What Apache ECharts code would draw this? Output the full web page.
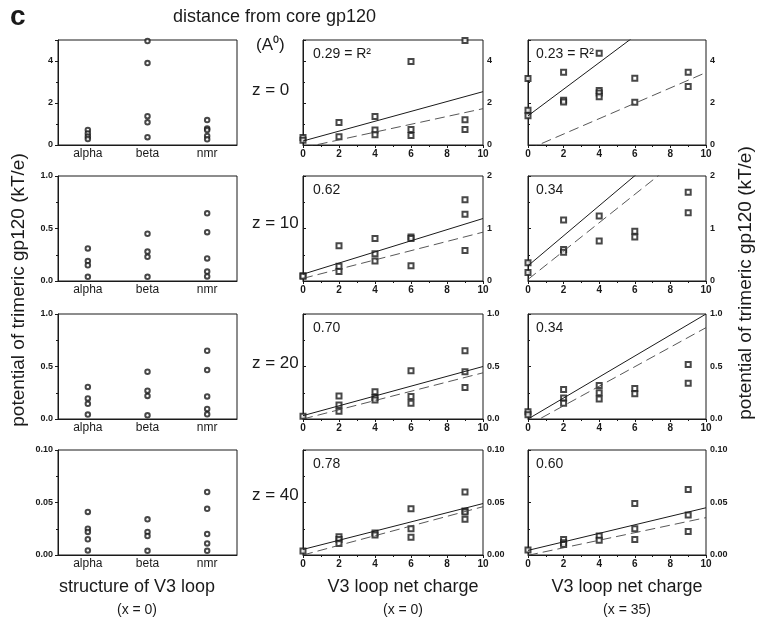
<!DOCTYPE html>
<html>
<head>
<meta charset="utf-8">
<script src="https://cdn.jsdelivr.net/npm/echarts@6/dist/echarts.min.js"></script>
<style>html,body{margin:0;padding:0;background:#fff}#c{width:763px;height:627px}</style>
</head>
<body>
<div id="c"></div>
<script>
// ---------- DATA ----------
// Column 1: structure of V3 loop (x = 0)
const structCats = ['alpha', 'beta', 'nmr'];
const s_z0_alpha = [0.72, 0.55, 0.40, 0.28];
const s_z0_beta = [4.95, 3.90, 1.37, 1.08, 0.37];
const s_z0_nmr = [1.19, 0.79, 0.71, 0.43, 0.27];
const s_z10_alpha = [0.31, 0.19, 0.15, 0.04];
const s_z10_beta = [0.45, 0.28, 0.23, 0.04];
const s_z10_nmr = [0.645, 0.465, 0.215, 0.09, 0.044];
const s_z20_alpha = [0.305, 0.196, 0.145, 0.042];
const s_z20_beta = [0.45, 0.27, 0.22, 0.035];
const s_z20_nmr = [0.65, 0.466, 0.215, 0.096, 0.045];
const s_z40_alpha = [0.041, 0.025, 0.022, 0.015, 0.0044];
const s_z40_beta = [0.034, 0.022, 0.018, 0.004];
const s_z40_nmr = [0.060, 0.044, 0.020, 0.011, 0.004];

// Column 2: V3 loop net charge (x = 0)
const c0_z0_x = [0, 0, 2, 2, 4, 4, 4, 6, 6, 6, 9, 9, 9];
const c0_z0_y = [0.36, 0.23, 1.07, 0.39, 1.36, 0.71, 0.49, 3.98, 0.74, 0.45, 4.98, 1.20, 0.74];
const c0_z10_x = [0, 0, 2, 2, 2, 4, 4, 4, 6, 6, 6, 9, 9, 9];
const c0_z10_y = [0.10, 0.09, 0.67, 0.28, 0.18, 0.81, 0.52, 0.38, 0.84, 0.81, 0.29, 1.55, 1.27, 0.58];
const c0_z20_x = [0, 2, 2, 2, 4, 4, 4, 6, 6, 6, 9, 9, 9];
const c0_z20_y = [0.026, 0.22, 0.133, 0.075, 0.26, 0.205, 0.18, 0.46, 0.214, 0.15, 0.65, 0.45, 0.30];
const c0_z40_x = [0, 2, 2, 2, 4, 4, 6, 6, 6, 9, 9, 9, 9];
const c0_z40_y = [0.0038, 0.0175, 0.0147, 0.011, 0.021, 0.019, 0.044, 0.025, 0.017, 0.060, 0.042, 0.041, 0.034];

// Column 3: V3 loop net charge (x = 35)
const c35_z0_x = [0, 0, 0, 2, 2, 2, 4, 4, 4, 4, 6, 6, 9, 9];
const c35_z0_y = [3.17, 1.66, 1.39, 3.46, 2.13, 2.05, 4.37, 2.59, 2.48, 2.30, 3.18, 2.03, 3.46, 2.78];
const c35_z10_x = [0, 0, 2, 2, 2, 4, 4, 6, 6, 9, 9];
const c35_z10_y = [0.35, 0.16, 1.16, 0.60, 0.55, 1.24, 0.76, 0.95, 0.84, 1.69, 1.30];
const c35_z20_x = [0, 0, 2, 2, 2, 4, 4, 4, 6, 6, 9, 9];
const c35_z20_y = [0.07, 0.04, 0.28, 0.20, 0.15, 0.32, 0.25, 0.19, 0.29, 0.24, 0.52, 0.34];
const c35_z40_x = [0, 2, 2, 2, 4, 4, 6, 6, 6, 9, 9, 9];
const c35_z40_y = [0.0047, 0.0147, 0.0116, 0.010, 0.018, 0.014, 0.049, 0.025, 0.0147, 0.0625, 0.038, 0.0225];

// Regression lines: value at net charge 0 and at 10
const fitX = [0, 10];
const c0_z0_solid = [0.19, 2.54],   c0_z0_dash = [-0.13, 1.73];
const c35_z0_solid = [1.39, 7.72],  c35_z0_dash = [-0.21, 3.45];
const c0_z10_solid = [0.13, 1.19],  c0_z10_dash = [0.05, 0.93];
const c35_z10_solid = [0.29, 3.15], c35_z10_dash = [0.03, 2.73];
const c0_z20_solid = [0.032, 0.50], c0_z20_dash = [0.0, 0.44];
const c35_z20_solid = [0.0, 1.0],   c35_z20_dash = [-0.06, 0.87];
const c0_z40_solid = [0.0053, 0.049], c0_z40_dash = [0.0, 0.046];
const c35_z40_solid = [0.0044, 0.045], c35_z40_dash = [-0.0003, 0.0356];

// Axis settings per row (z)
const rowMax = [5, 2, 1, 0.1];
const rowInterval = [2, 1, 0.5, 0.05];
const rowDecimals = [0, 0, 1, 2];
const col1Max = [5, 1, 1, 0.1];
const col1Interval = [2, 0.5, 0.5, 0.05];
const col1Decimals = [0, 1, 1, 2];
const zLabels = ['z = 0', 'z = 10', 'z = 20', 'z = 40'];
const r2Col2 = ['0.29 = R²', '0.62', '0.70', '0.78'];
const r2Col3 = ['0.23 = R²', '0.34', '0.34', '0.60'];

// ---------- LAYOUT ----------
const colLeft = [58, 303, 528];
const colWidth = [179, 180, 178];
const rowTop = [40, 176, 314, 450];
const rowH = 105;
const FONT = '"Liberation Sans", Arial, Helvetica, sans-serif';
const INK = '#1a1a1a';

const structData = [
  [s_z0_alpha, s_z0_beta, s_z0_nmr],
  [s_z10_alpha, s_z10_beta, s_z10_nmr],
  [s_z20_alpha, s_z20_beta, s_z20_nmr],
  [s_z40_alpha, s_z40_beta, s_z40_nmr]
];
const col2 = [[c0_z0_x, c0_z0_y, c0_z0_solid, c0_z0_dash], [c0_z10_x, c0_z10_y, c0_z10_solid, c0_z10_dash],
              [c0_z20_x, c0_z20_y, c0_z20_solid, c0_z20_dash], [c0_z40_x, c0_z40_y, c0_z40_solid, c0_z40_dash]];
const col3 = [[c35_z0_x, c35_z0_y, c35_z0_solid, c35_z0_dash], [c35_z10_x, c35_z10_y, c35_z10_solid, c35_z10_dash],
              [c35_z20_x, c35_z20_y, c35_z20_solid, c35_z20_dash], [c35_z40_x, c35_z40_y, c35_z40_solid, c35_z40_dash]];

const grids = [], xAxes = [], yAxes = [], series = [];
const lineAx = { show: true, lineStyle: { color: INK, width: 1 } };
const tickAx = { show: true, length: 3, lineStyle: { color: INK, width: 1 } };
const minorAx = (n) => ({ show: true, splitNumber: n, length: 2, lineStyle: { color: INK, width: 1 } });
const numLabel = (dec, extra) => Object.assign({
  fontFamily: FONT, fontSize: 9, color: INK, fontWeight: 'bold',
  formatter: v => Number(v).toFixed(dec)
}, extra || {});

for (let r = 0; r < 4; r++) {
  for (let c = 0; c < 3; c++) {
    const gi = grids.length;
    grids.push({
      left: colLeft[c], top: rowTop[r], width: colWidth[c], height: rowH,
      containLabel: false, outerBoundsMode: 'none',
      show: true, borderColor: INK, borderWidth: 1, backgroundColor: 'transparent'
    });
    if (c === 0) {
      xAxes.push({
        gridIndex: gi, type: 'category', data: structCats, boundaryGap: true,
        axisLine: lineAx, axisTick: { show: false },
        axisLabel: { fontFamily: FONT, fontSize: 12, color: INK, margin: 3 },
        splitLine: { show: false }
      });
      yAxes.push({
        gridIndex: gi, type: 'value', position: 'left', min: 0, max: col1Max[r], interval: col1Interval[r],
        axisLine: lineAx, axisTick: tickAx, minorTick: minorAx(2),
        axisLabel: numLabel(col1Decimals[r], { margin: 5, showMaxLabel: r !== 0 }),
        splitLine: { show: false }, minorSplitLine: { show: false }
      });
      const d = structData[r];
      const pts = [];
      for (let k = 0; k < 3; k++) d[k].forEach(v => pts.push([structCats[k], v]));
      series.push({
        type: 'scatter', xAxisIndex: gi, yAxisIndex: gi, data: pts,
        symbol: 'emptyCircle', symbolSize: 4.5,
        itemStyle: { color: INK, borderColor: INK, borderWidth: 0.8 }, silent: true
      });
    } else {
      const src = (c === 1 ? col2 : col3)[r];
      xAxes.push({
        gridIndex: gi, type: 'value', min: 0, max: 10, interval: 2,
        axisLine: lineAx, axisTick: tickAx, minorTick: minorAx(2),
        axisLabel: { fontFamily: FONT, fontSize: 10, color: INK, fontWeight: 'bold', margin: 4 },
        splitLine: { show: false }
      });
      yAxes.push({
        gridIndex: gi, type: 'value', position: 'right', min: 0, max: rowMax[r], interval: rowInterval[r],
        axisLine: lineAx, axisTick: tickAx, minorTick: minorAx(2),
        axisLabel: numLabel(rowDecimals[r], { margin: 4, showMaxLabel: r !== 0 }),
        splitLine: { show: false }
      });
      const pts = src[0].map((x, i) => [x, src[1][i]]);
      series.push({
        type: 'scatter', xAxisIndex: gi, yAxisIndex: gi, data: pts,
        symbol: 'emptyRect', symbolSize: 5,
        itemStyle: { color: INK, borderColor: INK, borderWidth: 0.8 }, silent: true
      });
      series.push({
        type: 'line', xAxisIndex: gi, yAxisIndex: gi, clip: true, symbol: 'none', silent: true,
        data: fitX.map((x, i) => [x, src[2][i]]),
        lineStyle: { color: INK, width: 1, type: 'solid' }
      });
      series.push({
        type: 'line', xAxisIndex: gi, yAxisIndex: gi, clip: true, symbol: 'none', silent: true,
        data: fitX.map((x, i) => [x, src[3][i]]),
        lineStyle: { color: '#444', width: 0.9, type: [10, 5] }
      });
    }
  }
}

// ---------- TEXT ----------
const txt = (x, y, text, size, opt) => Object.assign({
  type: 'text', x: x, y: y, silent: true,
  style: Object.assign({ text: text, fontFamily: FONT, fontSize: size, fill: INK, textAlign: 'left', textVerticalAlign: 'middle' }, (opt && opt.style) || {})
}, (opt && opt.el) || {});

const graphics = [
  txt(10, 17, 'c', 28, { style: { fontWeight: 'bold' } }),
  txt(173, 17, 'distance from core gp120', 18),
  txt(256, 45, '(A⁰)', 17),
  txt(19, 290, 'potential of trimeric gp120 (kT/e)', 19, { style: { textAlign: 'center' }, el: { rotation: Math.PI / 2 } }),
  txt(746, 283, 'potential of trimeric gp120 (kT/e)', 19, { style: { textAlign: 'center' }, el: { rotation: Math.PI / 2 } }),
  txt(137, 587, 'structure of V3 loop', 18, { style: { textAlign: 'center' } }),
  txt(137, 610, '(x = 0)', 14, { style: { textAlign: 'center' } }),
  txt(403, 587, 'V3 loop net charge', 18, { style: { textAlign: 'center' } }),
  txt(403, 610, '(x = 0)', 14, { style: { textAlign: 'center' } }),
  txt(627, 587, 'V3 loop net charge', 18, { style: { textAlign: 'center' } }),
  txt(627, 610, '(x = 35)', 14, { style: { textAlign: 'center' } })
];
const zY = [90, 223, 363, 495];
for (let r = 0; r < 4; r++) {
  graphics.push(txt(252, zY[r], zLabels[r], 17));
  graphics.push(txt(313, rowTop[r] + 14, r2Col2[r], 14));
  graphics.push(txt(536, rowTop[r] + 14, r2Col3[r], 14));
}

const chart = echarts.init(document.getElementById('c'), null, { renderer: 'canvas' });
chart.setOption({
  animation: false,
  backgroundColor: '#fff',
  grid: grids, xAxis: xAxes, yAxis: yAxes, series: series,
  graphic: graphics
});
</script>
</body>
</html>
